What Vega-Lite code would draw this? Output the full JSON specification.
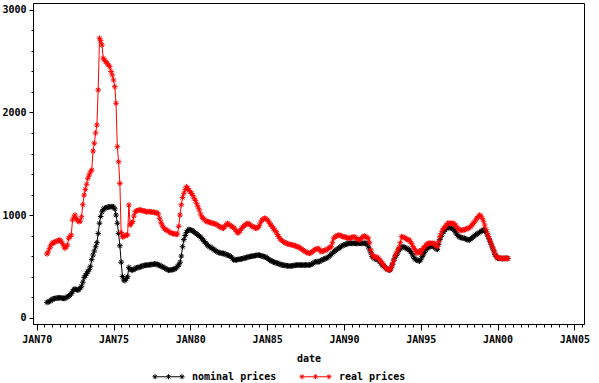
{
"$schema":"https://vega.github.io/schema/vega-lite/v6.json",
"width":551,"height":321,"autosize":"none",
"padding":{"left":33,"top":3,"right":15,"bottom":59},
"background":"white",
"config":{"view":{"stroke":"black","strokeWidth":1},
"axis":{"labelFont":"DejaVu Sans Mono","labelFontWeight":"bold","labelFontSize":10,"labelColor":"black","titleFont":"DejaVu Sans Mono","titleFontWeight":"bold","titleFontSize":10,"titleColor":"black","domainColor":"black","tickColor":"black","grid":false,"labelOverlap":false,"labelFlush":false},
"legend":{"labelFont":"DejaVu Sans Mono","labelFontWeight":"bold","labelFontSize":10,"labelColor":"black"}},
"data":{"values":[
{"d":"1970-09-01","nominal":148,"real":620},{"d":"1970-10-01","nominal":152,"real":640},{"d":"1970-11-01","nominal":158,"real":675},{"d":"1970-12-01","nominal":165,"real":700},
{"d":"1971-01-01","nominal":178,"real":724},{"d":"1971-02-01","nominal":182,"real":730},{"d":"1971-03-01","nominal":185,"real":735},{"d":"1971-04-01","nominal":188,"real":740},{"d":"1971-05-01","nominal":190,"real":748},{"d":"1971-06-01","nominal":192,"real":752},{"d":"1971-07-01","nominal":193,"real":756},{"d":"1971-08-01","nominal":192,"real":745},{"d":"1971-09-01","nominal":189,"real":724},{"d":"1971-10-01","nominal":187,"real":700},{"d":"1971-11-01","nominal":186,"real":675},{"d":"1971-12-01","nominal":195,"real":690},
{"d":"1972-01-01","nominal":203,"real":707},{"d":"1972-02-01","nominal":210,"real":773},{"d":"1972-03-01","nominal":220,"real":790},{"d":"1972-04-01","nominal":232,"real":805},{"d":"1972-05-01","nominal":255,"real":951},{"d":"1972-06-01","nominal":275,"real":980},{"d":"1972-07-01","nominal":278,"real":1000},{"d":"1972-08-01","nominal":272,"real":965},{"d":"1972-09-01","nominal":268,"real":944},{"d":"1972-10-01","nominal":272,"real":935},{"d":"1972-11-01","nominal":290,"real":940},{"d":"1972-12-01","nominal":305,"real":983},
{"d":"1973-01-01","nominal":345,"real":1100},{"d":"1973-02-01","nominal":390,"real":1195},{"d":"1973-03-01","nominal":410,"real":1250},{"d":"1973-04-01","nominal":430,"real":1300},{"d":"1973-05-01","nominal":447,"real":1358},{"d":"1973-06-01","nominal":470,"real":1390},{"d":"1973-07-01","nominal":500,"real":1420},{"d":"1973-08-01","nominal":565,"real":1439},{"d":"1973-09-01","nominal":610,"real":1624},{"d":"1973-10-01","nominal":650,"real":1700},{"d":"1973-11-01","nominal":690,"real":1800},{"d":"1973-12-01","nominal":730,"real":1878},
{"d":"1974-01-01","nominal":820,"real":2220},{"d":"1974-02-01","nominal":920,"real":2724},{"d":"1974-03-01","nominal":985,"real":2700},{"d":"1974-04-01","nominal":1030,"real":2659},{"d":"1974-05-01","nominal":1055,"real":2529},{"d":"1974-06-01","nominal":1065,"real":2510},{"d":"1974-07-01","nominal":1070,"real":2496},{"d":"1974-08-01","nominal":1075,"real":2480},{"d":"1974-09-01","nominal":1078,"real":2463},{"d":"1974-10-01","nominal":1080,"real":2447},{"d":"1974-11-01","nominal":1082,"real":2400},{"d":"1974-12-01","nominal":1081,"real":2366},
{"d":"1975-01-01","nominal":1078,"real":2317},{"d":"1975-02-01","nominal":1060,"real":2252},{"d":"1975-03-01","nominal":1000,"real":2090},{"d":"1975-04-01","nominal":920,"real":1666},{"d":"1975-05-01","nominal":820,"real":1520},{"d":"1975-06-01","nominal":700,"real":1309},{"d":"1975-07-01","nominal":540,"real":830},{"d":"1975-08-01","nominal":400,"real":788},{"d":"1975-09-01","nominal":366,"real":790},{"d":"1975-10-01","nominal":360,"real":800},{"d":"1975-11-01","nominal":380,"real":805},{"d":"1975-12-01","nominal":398,"real":805},
{"d":"1976-01-01","nominal":490,"real":1098},{"d":"1976-02-01","nominal":470,"real":902},{"d":"1976-03-01","nominal":465,"real":920},{"d":"1976-04-01","nominal":463,"real":935},{"d":"1976-05-01","nominal":470,"real":990},{"d":"1976-06-01","nominal":478,"real":1032},{"d":"1976-07-01","nominal":484,"real":1040},{"d":"1976-08-01","nominal":488,"real":1045},{"d":"1976-09-01","nominal":490,"real":1049},{"d":"1976-10-01","nominal":495,"real":1049},{"d":"1976-11-01","nominal":500,"real":1045},{"d":"1976-12-01","nominal":505,"real":1040},
{"d":"1977-01-01","nominal":508,"real":1040},{"d":"1977-02-01","nominal":510,"real":1035},{"d":"1977-03-01","nominal":512,"real":1030},{"d":"1977-04-01","nominal":512,"real":1032},{"d":"1977-05-01","nominal":514,"real":1035},{"d":"1977-06-01","nominal":516,"real":1030},{"d":"1977-07-01","nominal":518,"real":1028},{"d":"1977-08-01","nominal":520,"real":1030},{"d":"1977-09-01","nominal":522,"real":1025},{"d":"1977-10-01","nominal":522,"real":1022},{"d":"1977-11-01","nominal":520,"real":1022},{"d":"1977-12-01","nominal":512,"real":1010},
{"d":"1978-01-01","nominal":508,"real":968},{"d":"1978-02-01","nominal":502,"real":930},{"d":"1978-03-01","nominal":496,"real":902},{"d":"1978-04-01","nominal":490,"real":880},{"d":"1978-05-01","nominal":482,"real":865},{"d":"1978-06-01","nominal":475,"real":854},{"d":"1978-07-01","nominal":468,"real":850},{"d":"1978-08-01","nominal":463,"real":840},{"d":"1978-09-01","nominal":462,"real":830},{"d":"1978-10-01","nominal":465,"real":825},{"d":"1978-11-01","nominal":468,"real":821},{"d":"1978-12-01","nominal":470,"real":818},
{"d":"1979-01-01","nominal":475,"real":815},{"d":"1979-02-01","nominal":485,"real":812},{"d":"1979-03-01","nominal":500,"real":815},{"d":"1979-04-01","nominal":512,"real":890},{"d":"1979-05-01","nominal":540,"real":1000},{"d":"1979-06-01","nominal":600,"real":1100},{"d":"1979-07-01","nominal":690,"real":1170},{"d":"1979-08-01","nominal":760,"real":1212},{"d":"1979-09-01","nominal":800,"real":1250},{"d":"1979-10-01","nominal":830,"real":1276},{"d":"1979-11-01","nominal":850,"real":1260},{"d":"1979-12-01","nominal":860,"real":1240},
{"d":"1980-01-01","nominal":855,"real":1227},{"d":"1980-02-01","nominal":850,"real":1210},{"d":"1980-03-01","nominal":845,"real":1190},{"d":"1980-04-01","nominal":835,"real":1163},{"d":"1980-05-01","nominal":825,"real":1140},{"d":"1980-06-01","nominal":815,"real":1110},{"d":"1980-07-01","nominal":805,"real":1080},{"d":"1980-08-01","nominal":795,"real":1049},{"d":"1980-09-01","nominal":785,"real":1010},{"d":"1980-10-01","nominal":770,"real":980},{"d":"1980-11-01","nominal":755,"real":968},{"d":"1980-12-01","nominal":740,"real":955},
{"d":"1981-01-01","nominal":725,"real":945},{"d":"1981-02-01","nominal":712,"real":935},{"d":"1981-03-01","nominal":700,"real":935},{"d":"1981-04-01","nominal":691,"real":930},{"d":"1981-05-01","nominal":685,"real":925},{"d":"1981-06-01","nominal":675,"real":920},{"d":"1981-07-01","nominal":665,"real":919},{"d":"1981-08-01","nominal":658,"real":915},{"d":"1981-09-01","nominal":650,"real":910},{"d":"1981-10-01","nominal":642,"real":905},{"d":"1981-11-01","nominal":635,"real":895},{"d":"1981-12-01","nominal":632,"real":886},
{"d":"1982-01-01","nominal":628,"real":880},{"d":"1982-02-01","nominal":626,"real":875},{"d":"1982-03-01","nominal":625,"real":870},{"d":"1982-04-01","nominal":620,"real":890},{"d":"1982-05-01","nominal":615,"real":905},{"d":"1982-06-01","nominal":610,"real":919},{"d":"1982-07-01","nominal":605,"real":910},{"d":"1982-08-01","nominal":600,"real":900},{"d":"1982-09-01","nominal":590,"real":890},{"d":"1982-10-01","nominal":575,"real":886},{"d":"1982-11-01","nominal":562,"real":875},{"d":"1982-12-01","nominal":561,"real":860},
{"d":"1983-01-01","nominal":563,"real":840},{"d":"1983-02-01","nominal":565,"real":825},{"d":"1983-03-01","nominal":568,"real":830},{"d":"1983-04-01","nominal":570,"real":850},{"d":"1983-05-01","nominal":572,"real":870},{"d":"1983-06-01","nominal":575,"real":880},{"d":"1983-07-01","nominal":578,"real":895},{"d":"1983-08-01","nominal":582,"real":905},{"d":"1983-09-01","nominal":586,"real":915},{"d":"1983-10-01","nominal":590,"real":919},{"d":"1983-11-01","nominal":593,"real":910},{"d":"1983-12-01","nominal":596,"real":900},
{"d":"1984-01-01","nominal":598,"real":890},{"d":"1984-02-01","nominal":600,"real":886},{"d":"1984-03-01","nominal":602,"real":880},{"d":"1984-04-01","nominal":605,"real":872},{"d":"1984-05-01","nominal":608,"real":870},{"d":"1984-06-01","nominal":610,"real":880},{"d":"1984-07-01","nominal":608,"real":900},{"d":"1984-08-01","nominal":604,"real":930},{"d":"1984-09-01","nominal":600,"real":951},{"d":"1984-10-01","nominal":596,"real":960},{"d":"1984-11-01","nominal":593,"real":968},{"d":"1984-12-01","nominal":588,"real":965},
{"d":"1985-01-01","nominal":580,"real":955},{"d":"1985-02-01","nominal":570,"real":940},{"d":"1985-03-01","nominal":561,"real":920},{"d":"1985-04-01","nominal":555,"real":902},{"d":"1985-05-01","nominal":548,"real":886},{"d":"1985-06-01","nominal":542,"real":870},{"d":"1985-07-01","nominal":538,"real":850},{"d":"1985-08-01","nominal":535,"real":837},{"d":"1985-09-01","nominal":530,"real":810},{"d":"1985-10-01","nominal":525,"real":790},{"d":"1985-11-01","nominal":520,"real":770},{"d":"1985-12-01","nominal":515,"real":756},
{"d":"1986-01-01","nominal":512,"real":745},{"d":"1986-02-01","nominal":510,"real":735},{"d":"1986-03-01","nominal":508,"real":730},{"d":"1986-04-01","nominal":506,"real":724},{"d":"1986-05-01","nominal":504,"real":720},{"d":"1986-06-01","nominal":502,"real":715},{"d":"1986-07-01","nominal":502,"real":712},{"d":"1986-08-01","nominal":503,"real":710},{"d":"1986-09-01","nominal":505,"real":707},{"d":"1986-10-01","nominal":508,"real":703},{"d":"1986-11-01","nominal":510,"real":698},{"d":"1986-12-01","nominal":512,"real":694},
{"d":"1987-01-01","nominal":512,"real":691},{"d":"1987-02-01","nominal":513,"real":685},{"d":"1987-03-01","nominal":512,"real":675},{"d":"1987-04-01","nominal":512,"real":668},{"d":"1987-05-01","nominal":511,"real":659},{"d":"1987-06-01","nominal":512,"real":650},{"d":"1987-07-01","nominal":513,"real":642},{"d":"1987-08-01","nominal":512,"real":635},{"d":"1987-09-01","nominal":512,"real":630},{"d":"1987-10-01","nominal":512,"real":626},{"d":"1987-11-01","nominal":515,"real":630},{"d":"1987-12-01","nominal":520,"real":640},
{"d":"1988-01-01","nominal":530,"real":650},{"d":"1988-02-01","nominal":538,"real":659},{"d":"1988-03-01","nominal":544,"real":665},{"d":"1988-04-01","nominal":545,"real":670},{"d":"1988-05-01","nominal":544,"real":675},{"d":"1988-06-01","nominal":546,"real":660},{"d":"1988-07-01","nominal":556,"real":642},{"d":"1988-08-01","nominal":562,"real":645},{"d":"1988-09-01","nominal":568,"real":650},{"d":"1988-10-01","nominal":572,"real":655},{"d":"1988-11-01","nominal":577,"real":659},{"d":"1988-12-01","nominal":585,"real":665},
{"d":"1989-01-01","nominal":593,"real":675},{"d":"1989-02-01","nominal":605,"real":685},{"d":"1989-03-01","nominal":615,"real":691},{"d":"1989-04-01","nominal":626,"real":730},{"d":"1989-05-01","nominal":640,"real":773},{"d":"1989-06-01","nominal":650,"real":785},{"d":"1989-07-01","nominal":660,"real":795},{"d":"1989-08-01","nominal":668,"real":800},{"d":"1989-09-01","nominal":675,"real":805},{"d":"1989-10-01","nominal":685,"real":800},{"d":"1989-11-01","nominal":695,"real":795},{"d":"1989-12-01","nominal":702,"real":790},
{"d":"1990-01-01","nominal":707,"real":788},{"d":"1990-02-01","nominal":712,"real":785},{"d":"1990-03-01","nominal":716,"real":780},{"d":"1990-04-01","nominal":720,"real":775},{"d":"1990-05-01","nominal":724,"real":773},{"d":"1990-06-01","nominal":725,"real":775},{"d":"1990-07-01","nominal":724,"real":780},{"d":"1990-08-01","nominal":724,"real":785},{"d":"1990-09-01","nominal":725,"real":788},{"d":"1990-10-01","nominal":724,"real":780},{"d":"1990-11-01","nominal":722,"real":770},{"d":"1990-12-01","nominal":724,"real":762},
{"d":"1991-01-01","nominal":725,"real":756},{"d":"1991-02-01","nominal":724,"real":765},{"d":"1991-03-01","nominal":723,"real":780},{"d":"1991-04-01","nominal":724,"real":790},{"d":"1991-05-01","nominal":725,"real":795},{"d":"1991-06-01","nominal":724,"real":790},{"d":"1991-07-01","nominal":722,"real":780},{"d":"1991-08-01","nominal":690,"real":773},{"d":"1991-09-01","nominal":660,"real":730},{"d":"1991-10-01","nominal":630,"real":659},{"d":"1991-11-01","nominal":595,"real":620},{"d":"1991-12-01","nominal":585,"real":593},
{"d":"1992-01-01","nominal":575,"real":593},{"d":"1992-02-01","nominal":570,"real":590},{"d":"1992-03-01","nominal":565,"real":585},{"d":"1992-04-01","nominal":561,"real":577},{"d":"1992-05-01","nominal":545,"real":560},{"d":"1992-06-01","nominal":528,"real":545},{"d":"1992-07-01","nominal":512,"real":529},{"d":"1992-08-01","nominal":500,"real":510},{"d":"1992-09-01","nominal":490,"real":495},{"d":"1992-10-01","nominal":478,"real":480},{"d":"1992-11-01","nominal":470,"real":472},{"d":"1992-12-01","nominal":465,"real":466},
{"d":"1993-01-01","nominal":462,"real":466},{"d":"1993-02-01","nominal":490,"real":492},{"d":"1993-03-01","nominal":520,"real":525},{"d":"1993-04-01","nominal":560,"real":560},{"d":"1993-05-01","nominal":590,"real":600},{"d":"1993-06-01","nominal":605,"real":630},{"d":"1993-07-01","nominal":630,"real":660},{"d":"1993-08-01","nominal":659,"real":685},{"d":"1993-09-01","nominal":672,"real":730},{"d":"1993-10-01","nominal":685,"real":788},{"d":"1993-11-01","nominal":691,"real":785},{"d":"1993-12-01","nominal":688,"real":780},
{"d":"1994-01-01","nominal":680,"real":773},{"d":"1994-02-01","nominal":675,"real":765},{"d":"1994-03-01","nominal":665,"real":760},{"d":"1994-04-01","nominal":659,"real":756},{"d":"1994-05-01","nominal":645,"real":740},{"d":"1994-06-01","nominal":625,"real":720},{"d":"1994-07-01","nominal":600,"real":691},{"d":"1994-08-01","nominal":577,"real":670},{"d":"1994-09-01","nominal":565,"real":650},{"d":"1994-10-01","nominal":561,"real":626},{"d":"1994-11-01","nominal":555,"real":640},{"d":"1994-12-01","nominal":550,"real":650},
{"d":"1995-01-01","nominal":565,"real":626},{"d":"1995-02-01","nominal":593,"real":659},{"d":"1995-03-01","nominal":610,"real":675},{"d":"1995-04-01","nominal":635,"real":691},{"d":"1995-05-01","nominal":659,"real":705},{"d":"1995-06-01","nominal":675,"real":715},{"d":"1995-07-01","nominal":685,"real":724},{"d":"1995-08-01","nominal":690,"real":724},{"d":"1995-09-01","nominal":695,"real":725},{"d":"1995-10-01","nominal":695,"real":724},{"d":"1995-11-01","nominal":690,"real":720},{"d":"1995-12-01","nominal":692,"real":724},
{"d":"1996-01-01","nominal":670,"real":700},{"d":"1996-02-01","nominal":665,"real":691},{"d":"1996-03-01","nominal":715,"real":740},{"d":"1996-04-01","nominal":760,"real":788},{"d":"1996-05-01","nominal":790,"real":820},{"d":"1996-06-01","nominal":820,"real":854},{"d":"1996-07-01","nominal":840,"real":870},{"d":"1996-08-01","nominal":855,"real":886},{"d":"1996-09-01","nominal":870,"real":900},{"d":"1996-10-01","nominal":880,"real":919},{"d":"1996-11-01","nominal":878,"real":919},{"d":"1996-12-01","nominal":876,"real":920},
{"d":"1997-01-01","nominal":872,"real":919},{"d":"1997-02-01","nominal":866,"real":915},{"d":"1997-03-01","nominal":855,"real":919},{"d":"1997-04-01","nominal":835,"real":900},{"d":"1997-05-01","nominal":815,"real":886},{"d":"1997-06-01","nominal":800,"real":870},{"d":"1997-07-01","nominal":788,"real":854},{"d":"1997-08-01","nominal":782,"real":854},{"d":"1997-09-01","nominal":778,"real":850},{"d":"1997-10-01","nominal":775,"real":854},{"d":"1997-11-01","nominal":773,"real":856},{"d":"1997-12-01","nominal":768,"real":860},
{"d":"1998-01-01","nominal":762,"real":866},{"d":"1998-02-01","nominal":758,"real":870},{"d":"1998-03-01","nominal":756,"real":878},{"d":"1998-04-01","nominal":765,"real":886},{"d":"1998-05-01","nominal":775,"real":900},{"d":"1998-06-01","nominal":788,"real":919},{"d":"1998-07-01","nominal":798,"real":930},{"d":"1998-08-01","nominal":808,"real":951},{"d":"1998-09-01","nominal":815,"real":970},{"d":"1998-10-01","nominal":821,"real":985},{"d":"1998-11-01","nominal":830,"real":1000},{"d":"1998-12-01","nominal":840,"real":990},
{"d":"1999-01-01","nominal":848,"real":968},{"d":"1999-02-01","nominal":854,"real":940},{"d":"1999-03-01","nominal":850,"real":902},{"d":"1999-04-01","nominal":835,"real":860},{"d":"1999-05-01","nominal":805,"real":821},{"d":"1999-06-01","nominal":775,"real":790},{"d":"1999-07-01","nominal":745,"real":756},{"d":"1999-08-01","nominal":715,"real":725},{"d":"1999-09-01","nominal":680,"real":691},{"d":"1999-10-01","nominal":650,"real":660},{"d":"1999-11-01","nominal":615,"real":626},{"d":"1999-12-01","nominal":595,"real":600},
{"d":"2000-01-01","nominal":580,"real":585},{"d":"2000-02-01","nominal":578,"real":580},{"d":"2000-03-01","nominal":577,"real":578},{"d":"2000-04-01","nominal":577,"real":577},{"d":"2000-05-01","nominal":575,"real":576},{"d":"2000-06-01","nominal":577,"real":577},{"d":"2000-07-01","nominal":576,"real":578},{"d":"2000-08-01","nominal":577,"real":577},{"d":"2000-09-01","nominal":577,"real":577}
]},
"transform":[{"fold":["nominal","real"],"as":["s","v"]}],
"encoding":{
"x":{"field":"d","type":"temporal","scale":{"type":"utc","domain":[{"year":1969,"month":10,"date":4,"utc":true},{"year":2005,"month":8,"date":18,"utc":true}]},
"axis":{"title":"date","tickCount":{"interval":"month","step":6},"labelExpr":"utcmonth(datum.value)==0 && utcyear(datum.value)%5==0 ? upper(utcFormat(datum.value,'%b%y')) : ''","tickSize":{"condition":{"test":"utcmonth(datum.value)==0 && utcyear(datum.value)%5==0","value":6},"value":3},"labelPadding":4,"titlePadding":9}},
"y":{"field":"v","type":"quantitative","scale":{"domain":[-63,3068],"nice":false,"zero":false},
"axis":{"title":null,"values":[0,200,400,600,800,1000,1200,1400,1600,1800,2000,2200,2400,2600,2800,3000],"labelExpr":"datum.value%1000==0 ? datum.label : ''","format":"d","tickSize":{"condition":{"test":"datum.value%1000==0","value":4},"value":2},"labelPadding":3}},
"color":{"field":"s","type":"nominal","scale":{"domain":["nominal","real"],"range":["#000000","#ff0000"]},
"legend":{"title":null,"orient":"none","direction":"horizontal","legendX":119,"legendY":357,"symbolType":"M-1,0L1,0M-0.84,-0.16L-0.84,0.16M-0.95,-0.11L-0.73,0.11M-0.95,0.11L-0.73,-0.11M0,-0.16L0,0.16M-0.11,-0.11L0.11,0.11M-0.11,0.11L0.11,-0.11M0.84,-0.16L0.84,0.16M0.73,-0.11L0.95,0.11M0.73,0.11L0.95,-0.11","symbolSize":1024,"symbolStrokeWidth":1,"symbolFillColor":"transparent","labelOffset":7,"columnPadding":20,"labelExpr":"datum.label + ' prices'"}}
},
"layer":[
{"mark":{"type":"line","strokeWidth":1}},
{"mark":{"type":"point","shape":"M-1,0L1,0M0,-1L0,1M-0.7,-0.7L0.7,0.7M-0.7,0.7L0.7,-0.7","filled":false,"size":32,"strokeWidth":1,"opacity":1},
"encoding":{"order":{"field":"s"}}}
]
}
